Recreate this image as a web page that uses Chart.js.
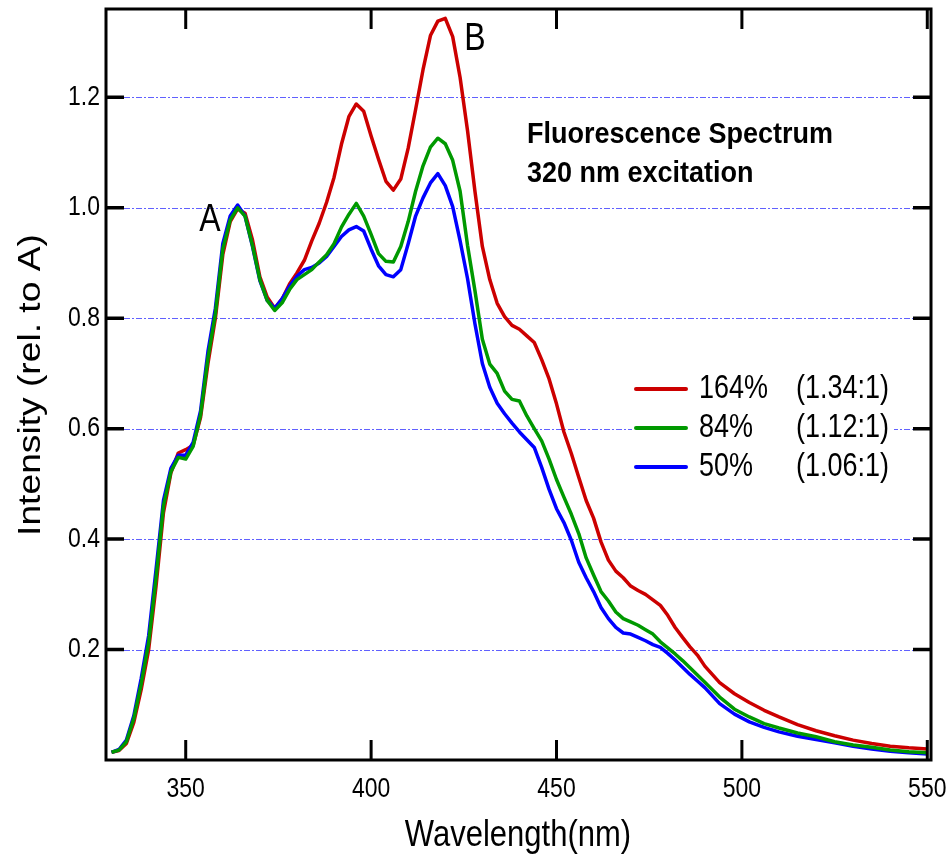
<!DOCTYPE html>
<html>
<head>
<meta charset="utf-8">
<script src="https://cdn.jsdelivr.net/npm/chart.js@4.4.1/dist/chart.umd.min.js"></script>
<style>
  body { margin: 0; background: #fff; }
  canvas { display: block; }
</style>
</head>
<body>
<canvas id="spectrum" width="950" height="861"></canvas>
<script>
// wavelength (nm)
const wavelengths = [
  330, 332, 334, 336, 338, 340, 342, 344, 346, 348, 350, 352, 354, 356, 358, 360,
  362, 364, 366, 368, 370, 372, 374, 376, 378, 380, 382, 384, 386, 388, 390, 392,
  394, 396, 398, 400, 402, 404, 406, 408, 410, 412, 414, 416, 418, 420, 422, 424,
  426, 428, 430, 432, 434, 436, 438, 440, 442, 444, 446, 448, 450, 452, 454, 456,
  458, 460, 462, 464, 466, 468, 470, 472, 474, 476, 478, 480, 482, 484, 486, 488,
  490, 494, 498, 502, 506, 510, 515, 520, 525, 530, 535, 540, 545, 550
];

// 164% (1.34:1)
const red = [
  0.014, 0.017, 0.030, 0.068, 0.128, 0.200, 0.315, 0.448, 0.520, 0.556, 0.562, 0.570, 0.620, 0.718, 0.800, 0.915,
  0.975, 0.998, 0.990, 0.942, 0.875, 0.838, 0.818, 0.835, 0.862, 0.882, 0.905, 0.940, 0.972, 1.010, 1.055, 1.115,
  1.165, 1.188, 1.175, 1.130, 1.088, 1.048, 1.032, 1.052, 1.108, 1.178, 1.250, 1.312, 1.338, 1.343, 1.310, 1.236,
  1.140, 1.030, 0.930, 0.870, 0.827, 0.803, 0.787, 0.780, 0.768, 0.756, 0.725, 0.690, 0.645, 0.594, 0.555, 0.512,
  0.470, 0.438, 0.395, 0.362, 0.342, 0.330, 0.315, 0.307, 0.300, 0.290, 0.280, 0.262, 0.240, 0.222, 0.205, 0.190,
  0.170, 0.140, 0.120, 0.104, 0.090, 0.078, 0.064, 0.053, 0.044, 0.036, 0.030, 0.025, 0.022, 0.020
];

// 84% (1.12:1)
const green = [
  0.014, 0.018, 0.033, 0.075, 0.138, 0.212, 0.330, 0.460, 0.522, 0.548, 0.545, 0.568, 0.625, 0.728, 0.808, 0.925,
  0.978, 1.000, 0.985, 0.932, 0.870, 0.832, 0.814, 0.828, 0.852, 0.870, 0.879, 0.888, 0.902, 0.915, 0.935, 0.965,
  0.988, 1.008, 0.985, 0.952, 0.917, 0.903, 0.902, 0.930, 0.975, 1.030, 1.076, 1.110, 1.126, 1.116, 1.086, 1.030,
  0.932, 0.850, 0.762, 0.717, 0.700, 0.668, 0.653, 0.650, 0.623, 0.600, 0.578, 0.545, 0.508, 0.476, 0.445, 0.410,
  0.366, 0.335, 0.305, 0.288, 0.268, 0.256, 0.250, 0.244, 0.236, 0.228, 0.214, 0.203, 0.192, 0.180, 0.167, 0.154,
  0.141, 0.114, 0.092, 0.078, 0.066, 0.058, 0.049, 0.042, 0.033, 0.027, 0.023, 0.018, 0.015, 0.013
];

// 50% (1.06:1)
const blue = [
  0.014, 0.019, 0.036, 0.080, 0.148, 0.225, 0.345, 0.470, 0.528, 0.552, 0.552, 0.575, 0.632, 0.740, 0.818, 0.935,
  0.985, 1.005, 0.985, 0.930, 0.868, 0.832, 0.818, 0.835, 0.858, 0.876, 0.888, 0.892, 0.900, 0.912, 0.930, 0.948,
  0.960, 0.966, 0.958, 0.925, 0.895, 0.879, 0.875, 0.888, 0.935, 0.985, 1.018, 1.045, 1.062, 1.040, 1.002, 0.940,
  0.872, 0.790, 0.718, 0.675, 0.646, 0.627, 0.610, 0.594, 0.580, 0.566, 0.530, 0.490, 0.455, 0.430, 0.398, 0.358,
  0.330, 0.305, 0.276, 0.256, 0.240, 0.230, 0.228, 0.222, 0.216, 0.209, 0.204, 0.193, 0.181, 0.168, 0.155, 0.143,
  0.131, 0.102, 0.083, 0.069, 0.059, 0.051, 0.043, 0.037, 0.031, 0.025, 0.020, 0.016, 0.013, 0.011
];

const seriesNames = ['164%', '84%', '50%'];
const seriesRatios = ['(1.34:1)', '(1.12:1)', '(1.06:1)'];
const seriesColors = ['#cc0000', '#009900', '#0000ff'];
const xTickValues = [350, 400, 450, 500, 550];
const yTickValues = [0.2, 0.4, 0.6, 0.8, 1.0, 1.2];

const FONT = '"Liberation Sans", Arial, sans-serif';

function points(vals) {
  return wavelengths.map((w, i) => ({ x: w, y: vals[i] }));
}

// the original picture is slightly stretched vertically, so text is too
function stretchText(ctx, s, x, y, font, align, baseline, rotate, k) {
  k = k || 1.2;
  ctx.save();
  ctx.translate(x, y);
  if (rotate) {
    ctx.rotate(-Math.PI / 2);
    ctx.scale(k, 1);
  } else {
    ctx.scale(1, k);
  }
  ctx.font = font;
  ctx.textAlign = align;
  ctx.textBaseline = baseline;
  ctx.fillStyle = '#000';
  ctx.fillText(s, 0, 0);
  ctx.restore();
}

const framePlugin = {
  id: 'frame',
  beforeDatasetsDraw(chart) {
    const { ctx, chartArea: a, scales: { y } } = chart;
    ctx.save();
    ctx.strokeStyle = 'rgba(80, 80, 255, 0.9)';
    ctx.lineWidth = 1;
    ctx.setLineDash([6, 2, 2, 2]);
    yTickValues.forEach(v => {
      const py = Math.round(y.getPixelForValue(v)) + 0.5;
      ctx.beginPath();
      ctx.moveTo(a.left + 18, py);
      ctx.lineTo(a.right - 18, py);
      ctx.stroke();
    });
    ctx.restore();
  },
  afterDatasetsDraw(chart) {
    const { ctx, chartArea: a, scales: { x, y } } = chart;
    ctx.save();

    // legend box
    ctx.fillStyle = '#fff';
    ctx.fillRect(632, 372, 262, 112);
    seriesNames.forEach((name, i) => {
      const ly = 389 + i * 39;
      ctx.strokeStyle = seriesColors[i];
      ctx.lineWidth = 4;
      ctx.lineCap = 'round';
      ctx.beginPath();
      ctx.moveTo(636, ly);
      ctx.lineTo(686, ly);
      ctx.stroke();
      stretchText(ctx, name, 699, ly, '27px ' + FONT, 'left', 'middle');
      stretchText(ctx, seriesRatios[i], 796, ly, '27px ' + FONT, 'left', 'middle');
    });

    // frame
    ctx.lineCap = 'butt';
    ctx.strokeStyle = '#000';
    ctx.lineWidth = 3;
    ctx.strokeRect(a.left, a.top, a.right - a.left, a.bottom - a.top);

    // inward ticks and labels
    xTickValues.forEach(v => {
      const px = x.getPixelForValue(v);
      ctx.lineWidth = 3;
      ctx.beginPath();
      ctx.moveTo(px, a.bottom);
      ctx.lineTo(px, a.bottom - 20);
      ctx.moveTo(px, a.top);
      ctx.lineTo(px, a.top + 20);
      ctx.stroke();
      stretchText(ctx, String(v), px, 789, '23px ' + FONT, 'center', 'middle');
    });
    yTickValues.forEach(v => {
      const py = y.getPixelForValue(v);
      ctx.lineWidth = 3.5;
      ctx.beginPath();
      ctx.moveTo(a.left, py);
      ctx.lineTo(a.left + 18, py);
      ctx.moveTo(a.right, py);
      ctx.lineTo(a.right - 18, py);
      ctx.stroke();
      stretchText(ctx, v.toFixed(1), 100, py, '23px ' + FONT, 'right', 'middle');
    });

    // axis titles
    stretchText(ctx, 'Wavelength(nm)', 518, 836, '31px ' + FONT, 'center', 'middle');
    stretchText(ctx, 'Intensity (rel. to A)', 31, 385, '31px ' + FONT, 'center', 'middle', true);

    // peak labels and caption
    stretchText(ctx, 'A', 210, 231, '32px ' + FONT, 'center', 'alphabetic');
    stretchText(ctx, 'B', 475, 50, '32px ' + FONT, 'center', 'alphabetic');
    stretchText(ctx, 'Fluorescence Spectrum', 527, 143, 'bold 27px ' + FONT, 'left', 'alphabetic', false, 1.08);
    stretchText(ctx, '320 nm excitation', 527, 182, 'bold 27px ' + FONT, 'left', 'alphabetic', false, 1.08);

    ctx.restore();
  }
};

new Chart(document.getElementById('spectrum'), {
  type: 'line',
  data: {
    datasets: [
      { label: seriesNames[0], data: points(red), borderColor: seriesColors[0], order: 2 },
      { label: seriesNames[1], data: points(green), borderColor: seriesColors[1], order: 0 },
      { label: seriesNames[2], data: points(blue), borderColor: seriesColors[2], order: 1 }
    ]
  },
  options: {
    responsive: false,
    animation: false,
    layout: { padding: { left: 106, right: 19, top: 9, bottom: 101 } },
    elements: {
      line: { borderWidth: 3.5, tension: 0, fill: false, borderJoinStyle: 'round' },
      point: { radius: 0 }
    },
    plugins: {
      legend: { display: false },
      tooltip: { enabled: false }
    },
    scales: {
      x: {
        type: 'linear',
        min: 328.5,
        max: 551,
        ticks: { display: false, stepSize: 50 },
        grid: { display: false, drawTicks: false },
        border: { display: false }
      },
      y: {
        min: 0,
        max: 1.36,
        ticks: { display: false, stepSize: 0.2 },
        grid: { display: false, drawTicks: false },
        border: { display: false }
      }
    }
  },
  plugins: [framePlugin]
});
</script>
</body>
</html>
